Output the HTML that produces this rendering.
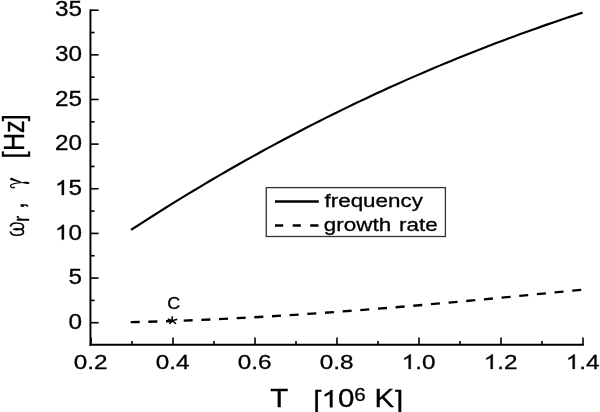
<!DOCTYPE html>
<html><head><meta charset="utf-8"><style>
html,body{margin:0;padding:0;background:#fff;}
svg{display:block;filter:grayscale(100%);}
text{font-family:"Liberation Sans",sans-serif;fill:#000;font-kerning:none;stroke:#000;stroke-width:0.3px;}
</style></head><body>
<svg width="600" height="412" viewBox="0 0 600 412">
<rect width="600" height="412" fill="#fff"/>
<g stroke="#000" fill="none">
<line x1="90.45" y1="9.4" x2="90.45" y2="345.6" stroke-width="1.95"/>
<line x1="89.5" y1="344.7" x2="583.8" y2="344.7" stroke-width="1.95"/>
<line x1="90" y1="322.70" x2="98.6" y2="322.70" stroke-width="1.6"/>
<line x1="90" y1="300.38" x2="94.6" y2="300.38" stroke-width="1.6"/>
<line x1="90" y1="278.06" x2="98.6" y2="278.06" stroke-width="1.6"/>
<line x1="90" y1="255.73" x2="94.6" y2="255.73" stroke-width="1.6"/>
<line x1="90" y1="233.41" x2="98.6" y2="233.41" stroke-width="1.6"/>
<line x1="90" y1="211.09" x2="94.6" y2="211.09" stroke-width="1.6"/>
<line x1="90" y1="188.76" x2="98.6" y2="188.76" stroke-width="1.6"/>
<line x1="90" y1="166.44" x2="94.6" y2="166.44" stroke-width="1.6"/>
<line x1="90" y1="144.12" x2="98.6" y2="144.12" stroke-width="1.6"/>
<line x1="90" y1="121.80" x2="94.6" y2="121.80" stroke-width="1.6"/>
<line x1="90" y1="99.47" x2="98.6" y2="99.47" stroke-width="1.6"/>
<line x1="90" y1="77.15" x2="94.6" y2="77.15" stroke-width="1.6"/>
<line x1="90" y1="54.83" x2="98.6" y2="54.83" stroke-width="1.6"/>
<line x1="90" y1="32.51" x2="94.6" y2="32.51" stroke-width="1.6"/>
<line x1="90" y1="10.19" x2="98.6" y2="10.19" stroke-width="1.6"/>
<line x1="91.00" y1="345" x2="91.00" y2="337.5" stroke-width="1.6"/>
<line x1="132.00" y1="345" x2="132.00" y2="341" stroke-width="1.6"/>
<line x1="173.00" y1="345" x2="173.00" y2="337.5" stroke-width="1.6"/>
<line x1="214.00" y1="345" x2="214.00" y2="341" stroke-width="1.6"/>
<line x1="255.00" y1="345" x2="255.00" y2="337.5" stroke-width="1.6"/>
<line x1="296.00" y1="345" x2="296.00" y2="341" stroke-width="1.6"/>
<line x1="337.00" y1="345" x2="337.00" y2="337.5" stroke-width="1.6"/>
<line x1="378.00" y1="345" x2="378.00" y2="341" stroke-width="1.6"/>
<line x1="419.00" y1="345" x2="419.00" y2="337.5" stroke-width="1.6"/>
<line x1="460.00" y1="345" x2="460.00" y2="341" stroke-width="1.6"/>
<line x1="501.00" y1="345" x2="501.00" y2="337.5" stroke-width="1.6"/>
<line x1="542.00" y1="345" x2="542.00" y2="341" stroke-width="1.6"/>
<line x1="583.00" y1="345" x2="583.00" y2="337.5" stroke-width="1.6"/>
</g>
<path d="M131.00,229.96 L136.72,226.24 L142.43,222.54 L148.15,218.87 L153.87,215.23 L159.58,211.61 L165.30,208.03 L171.02,204.46 L176.73,200.93 L182.45,197.42 L188.16,193.94 L193.88,190.48 L199.60,187.05 L205.31,183.65 L211.03,180.27 L216.75,176.92 L222.46,173.60 L228.18,170.30 L233.90,167.03 L239.61,163.78 L245.33,160.56 L251.05,157.36 L256.76,154.19 L262.48,151.05 L268.19,147.93 L273.91,144.83 L279.63,141.76 L285.34,138.72 L291.06,135.70 L296.78,132.70 L302.49,129.73 L308.21,126.78 L313.93,123.86 L319.64,120.97 L325.36,118.09 L331.08,115.25 L336.79,112.42 L342.51,109.62 L348.23,106.85 L353.94,104.09 L359.66,101.37 L365.37,98.66 L371.09,95.98 L376.81,93.33 L382.52,90.69 L388.24,88.08 L393.96,85.50 L399.67,82.93 L405.39,80.39 L411.11,77.87 L416.82,75.38 L422.54,72.91 L428.26,70.46 L433.97,68.03 L439.69,65.63 L445.41,63.25 L451.12,60.89 L456.84,58.55 L462.55,56.24 L468.27,53.95 L473.99,51.68 L479.70,49.43 L485.42,47.21 L491.14,45.00 L496.85,42.82 L502.57,40.66 L508.29,38.52 L514.00,36.40 L519.72,34.31 L525.44,32.23 L531.15,30.18 L536.87,28.15 L542.58,26.13 L548.30,24.14 L554.02,22.17 L559.73,20.22 L565.45,18.30 L571.17,16.39 L576.88,14.50 L582.60,12.63" fill="none" stroke="#000" stroke-width="2.15" stroke-linejoin="round"/>
<path d="M130.70,322.22 L139.70,322.00 M148.36,321.77 L157.36,321.51 M166.02,321.23 L171.80,321.04 M183.68,320.60 L192.68,320.25 M201.34,319.89 L210.34,319.49 M219.00,319.09 L228.00,318.65 M236.66,318.21 L245.66,317.74 M254.32,317.26 L263.32,316.74 M271.98,316.23 L280.98,315.68 M289.64,315.13 L298.64,314.55 M307.30,313.97 L316.30,313.35 M324.96,312.74 L333.96,312.09 M342.62,311.45 L351.62,310.77 M360.28,310.11 L369.28,309.40 M377.94,308.71 L386.94,307.98 M395.60,307.26 L404.60,306.50 M413.26,305.76 L422.26,304.98 M430.92,304.22 L439.92,303.42 M448.58,302.64 L457.58,301.81 M466.24,301.02 L475.24,300.18 M483.90,299.36 L492.90,298.50 M501.56,297.67 L510.56,296.80 M519.22,295.96 L528.22,295.08 M536.88,294.22 L545.88,293.33 M554.54,292.46 L563.54,291.55 M572.20,290.68 L581.20,289.77" fill="none" stroke="#000" stroke-width="2.3"/>
<g transform="translate(68.39,328.90) scale(1.1300,1)"><text x="0.00" y="0" font-size="21.5">0</text></g>
<g transform="translate(68.39,284.25) scale(1.1300,1)"><text x="0.00" y="0" font-size="21.5">5</text></g>
<g transform="translate(54.88,239.61) scale(1.1300,1)"><path d="M763 0H583V1147Q518 1085 412.5 1023T223 930V1104Q374 1175 487.5 1276T647 1472H763Z" transform="translate(0.00,0) scale(0.01050,-0.01009)" stroke="#000" stroke-width="0.32" vector-effect="non-scaling-stroke"/><text x="11.96" y="0" font-size="21.5">0</text></g>
<g transform="translate(54.88,194.96) scale(1.1300,1)"><path d="M763 0H583V1147Q518 1085 412.5 1023T223 930V1104Q374 1175 487.5 1276T647 1472H763Z" transform="translate(0.00,0) scale(0.01050,-0.01009)" stroke="#000" stroke-width="0.32" vector-effect="non-scaling-stroke"/><text x="11.96" y="0" font-size="21.5">5</text></g>
<g transform="translate(54.88,150.32) scale(1.1300,1)"><text x="0.00 11.96" y="0" font-size="21.5">20</text></g>
<g transform="translate(54.88,105.67) scale(1.1300,1)"><text x="0.00 11.96" y="0" font-size="21.5">25</text></g>
<g transform="translate(54.88,61.03) scale(1.1300,1)"><text x="0.00 11.96" y="0" font-size="21.5">30</text></g>
<g transform="translate(54.88,16.39) scale(1.1300,1)"><text x="0.00 11.96" y="0" font-size="21.5">35</text></g>
<g transform="translate(73.71,368.90) scale(1.1570,1)"><text x="0.00 11.68 17.51" y="0" font-size="21.0">0.2</text></g>
<g transform="translate(155.71,368.90) scale(1.1570,1)"><text x="0.00 11.68 17.51" y="0" font-size="21.0">0.4</text></g>
<g transform="translate(237.71,368.90) scale(1.1570,1)"><text x="0.00 11.68 17.51" y="0" font-size="21.0">0.6</text></g>
<g transform="translate(319.71,368.90) scale(1.1570,1)"><text x="0.00 11.68 17.51" y="0" font-size="21.0">0.8</text></g>
<g transform="translate(401.71,368.90) scale(1.1570,1)"><path d="M763 0H583V1147Q518 1085 412.5 1023T223 930V1104Q374 1175 487.5 1276T647 1472H763Z" transform="translate(0.00,0) scale(0.01025,-0.00985)" stroke="#000" stroke-width="0.32" vector-effect="non-scaling-stroke"/><text x="11.68 17.51" y="0" font-size="21.0">.0</text></g>
<g transform="translate(483.71,368.90) scale(1.1570,1)"><path d="M763 0H583V1147Q518 1085 412.5 1023T223 930V1104Q374 1175 487.5 1276T647 1472H763Z" transform="translate(0.00,0) scale(0.01025,-0.00985)" stroke="#000" stroke-width="0.32" vector-effect="non-scaling-stroke"/><text x="11.68 17.51" y="0" font-size="21.0">.2</text></g>
<g transform="translate(565.71,368.90) scale(1.1570,1)"><path d="M763 0H583V1147Q518 1085 412.5 1023T223 930V1104Q374 1175 487.5 1276T647 1472H763Z" transform="translate(0.00,0) scale(0.01025,-0.00985)" stroke="#000" stroke-width="0.32" vector-effect="non-scaling-stroke"/><text x="11.68 17.51" y="0" font-size="21.0">.4</text></g>
<g transform="translate(270.25,407.30) scale(1.1800,1)"><text x="0.00" y="0" font-size="25">T</text></g>
<g transform="translate(313.30,408.80) scale(1.1800,1)"><text x="0.00" y="0" font-size="25">[</text></g>
<g transform="translate(321.50,407.30) scale(1.1800,1)"><path d="M763 0H583V1147Q518 1085 412.5 1023T223 930V1104Q374 1175 487.5 1276T647 1472H763Z" transform="translate(0.00,0) scale(0.01221,-0.01173)" stroke="#000" stroke-width="0.32" vector-effect="non-scaling-stroke"/><text x="13.90" y="0" font-size="25">0</text></g>
<g transform="translate(354.25,400.70) scale(1.1150,1)"><text x="0.00" y="0" font-size="18.5">6</text></g>
<g transform="translate(374.40,407.30) scale(1.1800,1)"><text x="0.00" y="0" font-size="25">K</text></g>
<g transform="translate(395.05,408.80) scale(1.1800,1)"><text x="0.00" y="0" font-size="25">]</text></g>
<g transform="translate(23.70,0) scale(1.19,1) rotate(-90)"><g transform="translate(-158.40,0.00) scale(1.0000,1)"><text x="0.00" y="0" font-size="25">[</text></g></g>
<g transform="translate(23.70,0) scale(1.19,1) rotate(-90)"><g transform="translate(-151.00,0.00) scale(1.0000,1)"><text x="0.00" y="0" font-size="25">H</text></g></g>
<g transform="translate(23.70,0) scale(1.19,1) rotate(-90)"><g transform="translate(-132.95,0.00) scale(1.0000,1)"><text x="0.00" y="0" font-size="25">z</text></g></g>
<g transform="translate(23.70,0) scale(1.19,1) rotate(-90)"><g transform="translate(-121.25,0.00) scale(1.0000,1)"><text x="0.00" y="0" font-size="25">]</text></g></g>
<g transform="translate(23.70,0) scale(1.19,1) rotate(-90)"><g transform="translate(-208.95,0.00) scale(1.0000,1)"><text x="0.00" y="0" font-size="25">,</text></g></g>
<g transform="translate(23.70,0) scale(1.19,1) rotate(-90) translate(-236.5,0)"><path d="M5.1,-11.2 C2.5,-10.8 1.1,-8.5 1.2,-5.9 C1.3,-2.5 2.6,-0.2 4.5,-0.2 C6.0,-0.2 6.9,-1.2 7.3,-2.4 C7.7,-1.2 8.6,-0.2 10.1,-0.2 C12.0,-0.2 13.3,-2.5 13.4,-5.9 C13.5,-8.5 12.1,-10.8 9.9,-11.2" stroke="#000" stroke-width="1.45" fill="none"/><path d="M7.3,-9.6 C8.9,-7.2 8.9,-4 7.3,-1.9 C5.7,-4 5.7,-7.2 7.3,-9.6 Z" fill="#000"/></g>
<g transform="translate(23.70,0) scale(1.19,1) rotate(-90)"><g transform="translate(-221.70,4.20) scale(1.0000,1)"><text x="0.00" y="0" font-size="18">r</text></g></g>
<g transform="translate(23.70,0) scale(1.19,1) rotate(-90) translate(-188.5,0)"><path d="M10.96,-10.76 L6.55,-1.57 L5.45,-2.03 L8.84,-11.64 Z" fill="#000"/><path d="M6.0,-1.8 C5.4,-5 5.0,-8 4.0,-10.2 C3.2,-11.6 1.6,-11.2 1.0,-10 C0.6,-9.2 0.6,-8.2 0.8,-7.6" stroke="#000" stroke-width="1.0" fill="none"/><ellipse cx="0.95" cy="-8.3" rx="0.75" ry="0.9" fill="#000"/><path d="M6.0,-1.8 C7.4,0 7.0,4.9 5.5,4.9 C4.0,4.9 4.3,0.5 6.0,-1.8 Z" fill="#000"/></g>
<rect x="266.25" y="187.6" width="179.15" height="48.9" fill="none" stroke="#333" stroke-width="1.3"/>
<line x1="275" y1="201.5" x2="318.8" y2="201.5" stroke="#000" stroke-width="2.3"/>
<path d="M275,225.5 L283.2,225.5 M292.7,225.5 L300.8,225.5 M310.2,225.5 L318.5,225.5" stroke="#000" stroke-width="2.3"/>
<g transform="translate(324.49,207.00) scale(1.1800,1)"><text x="0.00 5.28 11.61 22.17 32.74 43.31 53.87 64.44 73.94" y="0" font-size="19">frequency</text></g>
<g transform="translate(323.86,230.50) scale(1.1800,1)"><text x="0.00 10.57 16.89 27.46 41.18 46.46" y="0" font-size="19">growth</text></g>
<g transform="translate(399.08,230.50) scale(1.1800,1)"><text x="0.00 6.33 16.89 22.17" y="0" font-size="19">rate</text></g>
<g transform="translate(167.18,309.30) scale(1.1000,1)"><text x="0.00" y="0" font-size="16.3">C</text></g>
<path d="M172.0,320.7 L172.2,316.9 M172.0,320.7 L176.6,319.4 M172.0,320.7 L175.5,323.4 M172.0,320.7 L169.9,323.4 M172.0,320.7 L168.3,319.1" stroke="#000" stroke-width="1.55" stroke-linecap="round" fill="none"/>
</svg>
</body></html>
